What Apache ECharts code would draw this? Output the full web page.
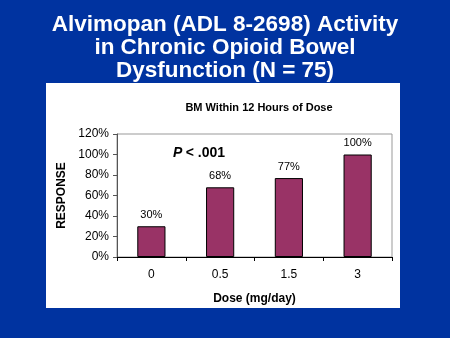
<!DOCTYPE html>
<html>
<head>
<meta charset="utf-8">
<script src="https://cdn.jsdelivr.net/npm/echarts@6/dist/echarts.min.js"></script>
<style>
  html, body { margin: 0; padding: 0; background: #0033a0; }
  #chart { width: 450px; height: 338px; }
</style>
</head>
<body>
<div id="chart"></div>
<script>
// data
var doses = ['0', '0.5', '1.5', '3']
var responses = [30, 68, 77, 100]
var yTicks = [0, 20, 40, 60, 80, 100, 120]

var myChart = echarts.init(document.getElementById('chart'))

var option = {
  backgroundColor: '#0033a0',
  animation: false,
  title: [
    {
      text: 'Alvimopan (ADL 8-2698) Activity\nin Chronic Opioid Bowel\nDysfunction (N = 75)',
      left: 'center',
      top: 8,
      textStyle: {
        color: '#fff',
        fontFamily: 'Liberation Sans',
        fontWeight: 'bold',
        fontSize: 22.5,
        lineHeight: 23,
        textShadowColor: '#000',
        textShadowOffsetX: 2,
        textShadowOffsetY: 2,
        textShadowBlur: 0
      }
    },
    {
      text: 'BM Within 12 Hours of Dose',
      left: 254,
      textAlign: 'center',
      top: 97,
      textStyle: {
        color: '#000',
        fontFamily: 'Liberation Sans',
        fontWeight: 'bold',
        fontSize: 11
      }
    }
  ],
  graphic: [
    {
      type: 'rect',
      z: -1,
      shape: { x: 46, y: 83, width: 354, height: 225 },
      style: { fill: '#fff' }
    },
    {
      type: 'text',
      left: 173,
      top: 146,
      style: {
        rich: {
          p: { fontStyle: 'italic', fontWeight: 'bold', fontSize: 14, fontFamily: 'Liberation Sans' },
          r: { fontWeight: 'bold', fontSize: 14, fontFamily: 'Liberation Sans' }
        },
        text: '{p|P} {r|< .001}',
        fill: '#000'
      }
    }
  ],
  grid: {
    left: 117,
    right: 58,
    top: 134,
    bottom: 81,
    show: true,
    backgroundColor: '#fff',
    borderColor: '#999',
    borderWidth: 1
  },
  xAxis: {
    type: 'category',
    data: doses,
    name: 'Dose (mg/day)',
    nameLocation: 'middle',
    nameGap: 36,
    nameTextStyle: { color: '#000', fontWeight: 'bold', fontSize: 12, fontFamily: 'Liberation Sans' },
    axisLine: { lineStyle: { color: '#000', width: 1 } },
    axisTick: { show: true, length: 4, lineStyle: { color: '#000' } },
    axisLabel: { color: '#000', fontSize: 12, fontFamily: 'Liberation Sans', margin: 12 }
  },
  yAxis: {
    type: 'value',
    min: yTicks[0],
    max: yTicks[yTicks.length - 1],
    interval: 20,
    name: 'RESPONSE',
    nameLocation: 'middle',
    nameGap: 40,
    nameTextStyle: { color: '#000', fontWeight: 'bold', fontSize: 12, fontFamily: 'Liberation Sans' },
    axisLine: { show: true, lineStyle: { color: '#555' } },
    axisTick: { show: true, length: 4, lineStyle: { color: '#555' } },
    splitLine: { show: false },
    axisLabel: {
      color: '#000',
      fontSize: 12,
      fontFamily: 'Liberation Sans',
      margin: 8,
      formatter: function (v) { return v + '%' }
    }
  },
  series: [
    {
      type: 'bar',
      data: responses,
      barWidth: '41%',
      itemStyle: { color: '#993366', borderColor: '#000', borderWidth: 1 },
      label: {
        show: true,
        position: 'top',
        distance: 6,
        color: '#000',
        fontSize: 11,
        fontFamily: 'Liberation Sans',
        formatter: function (p) { return p.value + '%' }
      }
    }
  ]
}

myChart.setOption(option)
</script>
</body>
</html>
